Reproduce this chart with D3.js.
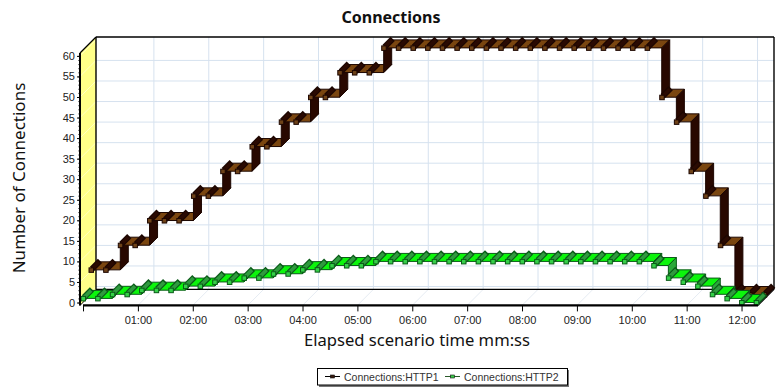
<!DOCTYPE html>
<html>
<head>
<meta charset="utf-8">
<script src="https://cdn.jsdelivr.net/npm/d3@7"></script>
<style>
  html, body { margin: 0; padding: 0; background: #fff; }
  svg { display: block; }
</style>
</head>
<body>
<svg id="chart"></svg>
<script>
// sample times in seconds
const sampleTimes = [0, 16, 32, 48, 64, 80, 96, 112, 128, 144, 160, 176, 192, 208, 224, 240,
  256, 272, 288, 304, 320, 336, 352, 368, 384, 400, 416, 432, 448, 464, 480, 496,
  512, 528, 544, 560, 576, 592, 608, 624, 640, 656, 672, 688, 704, 720, 736];
const http1Values = [6, 6, 12, 12, 18, 18, 18, 24, 24, 30, 30, 36, 36, 42, 42, 48,
  48, 54, 54, 54, 60, 60, 60, 60, 60, 60, 60, 60, 60, 60, 60, 60,
  60, 60, 60, 60, 60, 60, 60, 48, 42, 30, 24, 12, 0, 0, 0];
const http2Values = [1, 1, 2, 2, 3, 3, 3, 4, 4, 5, 5, 6, 6, 7, 7, 8,
  8, 9, 9, 9, 10, 10, 10, 10, 10, 10, 10, 10, 10, 10, 10, 10,
  10, 10, 10, 10, 10, 10, 10, 9, 6, 5, 4, 2, 1, 0, 0];
const yTicks = [0, 5, 10, 15, 20, 25, 30, 35, 40, 45, 50, 55, 60];
const yMinorTicks = d3.range(0, 61);
const xTicks = [60, 120, 180, 240, 300, 360, 420, 480, 540, 600, 660, 720];
const xTickLabels = ['01:00', '02:00', '03:00', '04:00', '05:00', '06:00', '07:00', '08:00', '09:00', '10:00', '11:00', '12:00'];
const legendLabels = ['Connections:HTTP1', 'Connections:HTTP2'];

const width = 780;
const height = 390;
const depth = 16; // 3d offset of the back wall
const slice = 8; // each series takes half of the depth

const svg = d3.select('#chart').attr('width', width).attr('height', height);
svg.append('rect').attr('width', width).attr('height', height).attr('fill', '#fff');

const x = d3.scaleLinear().domain([-3.3, 738]).range([80, 758]);
const y = d3.scaleLinear().domain([-0.7, 60.7]).range([305.4, 53]);

const [xLeft, xRight] = x.range();
const [yBottom, yTop] = y.range();

function poly(parent, pts, fill, stroke, sw) {
  return parent.append('polygon')
    .attr('points', pts.map((p) => p.join(',')).join(' '))
    .attr('fill', fill)
    .attr('stroke', stroke || 'none')
    .attr('stroke-width', sw || 0)
    .attr('stroke-linejoin', 'round');
}

function line(parent, x1, y1, x2, y2, color, w) {
  return parent.append('line')
    .attr('x1', x1).attr('y1', y1).attr('x2', x2).attr('y2', y2)
    .attr('stroke', color).attr('stroke-width', w);
}

// walls
const walls = svg.append('g');
poly(walls, [[xLeft, yTop], [xLeft + depth, yTop - depth], [xLeft + depth, yBottom - depth], [xLeft, yBottom]], '#ffff88');

const gridColor = '#d6e2ef';
yTicks.forEach((v) => {
  if (v < 60) line(walls, xLeft + depth, y(v) - depth, xRight + depth, y(v) - depth, gridColor, 1);
  line(walls, xLeft, y(v), xLeft + depth, y(v) - depth, '#ffffc4', 1);
});
xTicks.forEach((t) => {
  line(walls, x(t) + depth, yTop - depth, x(t) + depth, yBottom - depth, gridColor, 1);
  line(walls, x(t), yBottom, x(t) + depth, yBottom - depth, '#e6ecf3', 1);
});

// frame of the box
line(walls, xLeft + depth, yTop - depth, xRight + depth, yTop - depth, '#000', 1.4);
line(walls, xLeft + depth, yTop - depth, xLeft + depth, yBottom - depth, '#000', 1.4);
line(walls, xRight + depth, yTop - depth, xRight + depth, yBottom - depth, '#000', 1.4);
line(walls, xLeft + depth, yBottom - depth, xRight + depth, yBottom - depth, '#000', 1.2);
line(walls, xLeft, yTop, xLeft + depth, yTop - depth, '#000', 1.2);
line(walls, xLeft, yBottom, xLeft + depth, yBottom - depth, '#000', 1);
line(walls, xRight, yBottom, xRight + depth, yBottom - depth, '#000', 1.2);

function drawSeries(values, off, c) {
  const g = svg.append('g');
  const px = (i) => x(sampleTimes[i]) + off;
  const py = (v) => y(v) - off;

  values.forEach((v, i) => {
    const xi = px(i);
    const yi = py(v);
    if (i > 0 && values[i - 1] !== v) {
      const yp = py(values[i - 1]);
      poly(g, [[xi, yp], [xi + slice, yp - slice], [xi + slice, yi - slice], [xi, yi]], c.riser, c.edge, 1);
    }
    if (i < values.length - 1) {
      const xn = px(i + 1);
      poly(g, [[xi, yi], [xn, yi], [xn + slice, yi - slice], [xi + slice, yi - slice]], c.top, c.edge, 1);
    }
  });

  // the little bars go over the ribbon
  values.forEach((v, i) => {
    const xi = px(i);
    const yi = py(v);
    line(g, xi + 1, yi - 1, xi + slice + 1, yi - slice - 1, c.edge, 6);
    line(g, xi + 1, yi - 1, xi + slice, yi - slice, c.bar, 3.6);
    g.append('rect')
      .attr('x', xi - 2).attr('y', yi - 2)
      .attr('width', 4.5).attr('height', 4.5)
      .attr('fill', c.marker)
      .attr('stroke', c.edge)
      .attr('stroke-width', 1);
  });
}

const brown = { top: '#7a4610', riser: '#280800', bar: '#2a0a02', marker: '#6e4218', edge: '#1c0600' };
const green = { top: '#0cf50c', riser: '#2aa83a', bar: '#2f9a3e', marker: '#35d048', edge: '#0a5a18' };

drawSeries(http1Values, slice, brown);
drawSeries(http2Values, 0, green);

// axes
const tickFont = '"Liberation Sans", Arial, sans-serif';

const yAxisMinor = svg.append('g')
  .attr('transform', `translate(${xLeft},0)`)
  .call(d3.axisLeft(y).tickValues(yMinorTicks).tickSize(1.5).tickFormat(''));
yAxisMinor.select('.domain').remove();
yAxisMinor.selectAll('line').attr('stroke', '#000');

const yAxis = svg.append('g')
  .attr('transform', `translate(${xLeft},0)`)
  .call(d3.axisLeft(y).tickValues(yTicks).tickSize(3).tickPadding(2).tickFormat(d3.format('d')));
yAxis.select('.domain').attr('stroke', '#000').attr('stroke-width', 2).attr('d', `M0,${yTop}V${yBottom}`);
yAxis.selectAll('text').style('font-family', tickFont).style('font-size', '11px').attr('fill', '#222');

const xAxis = svg.append('g')
  .attr('transform', `translate(0,${yBottom})`)
  .call(d3.axisBottom(x).tickValues([0].concat(xTicks)).tickSize(6).tickPadding(5)
    .tickFormat((d) => (d === 0 ? '' : xTickLabels[xTicks.indexOf(d)])));
xAxis.select('.domain').attr('stroke', '#000').attr('stroke-width', 2.4).attr('d', `M${x(0)},0H${xRight}`);
xAxis.selectAll('text').style('font-family', tickFont).style('font-size', '11px').attr('fill', '#222');

// titles
svg.append('text')
  .attr('x', 391).attr('y', 23)
  .attr('text-anchor', 'middle')
  .style('font-family', '"Noto Sans", sans-serif')
  .style('font-size', '16px')
  .style('font-weight', 'bold')
  .attr('fill', '#111')
  .text('Connections');

svg.append('text')
  .attr('x', 417).attr('y', 346)
  .attr('text-anchor', 'middle')
  .style('font-family', '"Noto Sans", sans-serif')
  .style('font-size', '16.6px')
  .attr('fill', '#111')
  .text('Elapsed scenario time mm:ss');

svg.append('text')
  .attr('transform', 'translate(25,178) rotate(-90)')
  .attr('text-anchor', 'middle')
  .style('font-family', '"Noto Sans", sans-serif')
  .style('font-size', '17px')
  .attr('fill', '#111')
  .text('Number of Connections');

// legend
const legend = svg.append('g').attr('transform', 'translate(317,368)');
legend.append('rect').attr('x', 2).attr('y', 2).attr('width', 250).attr('height', 17).attr('fill', '#777');
legend.append('rect').attr('x', 0.5).attr('y', 0.5).attr('width', 250).attr('height', 16.5)
  .attr('fill', '#fff').attr('stroke', '#000').attr('stroke-width', 1);

const legendColors = [['#000', '#3a1c10'], ['#2a5a2a', '#3ccc4c']];
[8, 128].forEach((kx, i) => {
  const row = legend.append('g').attr('transform', `translate(${kx},8.5)`);
  line(row, 0, 0, 15, 0, legendColors[i][0], 1);
  row.append('rect').attr('x', 5.5).attr('y', -1.5).attr('width', 4).attr('height', 3)
    .attr('fill', legendColors[i][1]).attr('stroke', '#111').attr('stroke-width', 0.6);
  row.append('text')
    .attr('x', 19).attr('y', 4)
    .style('font-family', tickFont)
    .style('font-size', '10.5px')
    .attr('fill', '#333')
    .text(legendLabels[i]);
});
</script>
</body>
</html>
